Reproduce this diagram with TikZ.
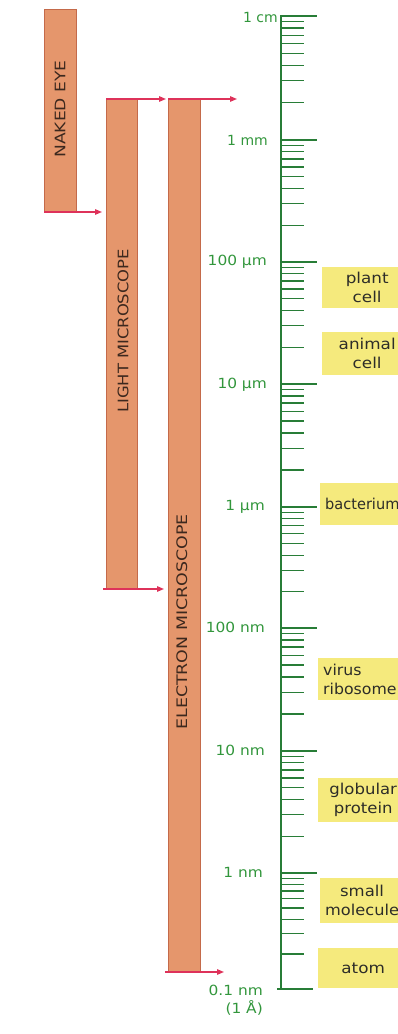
\documentclass[tikz,border=0pt]{standalone}
\usepackage{fontspec}
\setmainfont{DejaVu Sans}
\usetikzlibrary{arrows.meta}
\definecolor{barfill}{RGB}{229,150,108}
\definecolor{bardraw}{RGB}{196,106,74}
\definecolor{arrowred}{RGB}{222,50,90}
\definecolor{scalegreen}{RGB}{40,125,55}
\definecolor{labelgreen}{RGB}{50,150,60}
\definecolor{boxyellow}{RGB}{245,234,125}
\definecolor{boxtext}{RGB}{45,45,40}
\definecolor{bartext}{RGB}{60,40,30}
\begin{document}
\begin{tikzpicture}[x=1pt,y=-1pt,
  bar/.style={draw=bardraw, fill=barfill, line width=1pt, anchor=north west, inner sep=0, outer sep=0},
  rangearrow/.style={draw=arrowred, line width=1.3pt, -{Triangle[length=7pt,width=5.5pt]}},
  barlabel/.style={rotate=90, font=\fontsize{14.5}{16}\selectfont, text=bartext, inner sep=0},
  scalelabel/.style={anchor=base east, font=\fontsize{14}{16}\selectfont, text=labelgreen, inner sep=0},
  ybox/.style={fill=boxyellow, draw=none, anchor=north west, minimum width=90pt, inner xsep=5pt, inner ysep=0pt,
    font=\fontsize{15}{19}\selectfont, text=boxtext, align=center},
  majortick/.style={draw=scalegreen, line width=1.4pt},
  minortick/.style={draw=scalegreen, line width=1.3pt},
  scaleline/.style={draw=scalegreen, line width=1.8pt}
]
\useasboundingbox (0,0) rectangle (398,1034);
\clip (0,0) rectangle (398,1034);

% bars
\node[bar, minimum width=32pt, minimum height=203pt] (naked) at (44,9) {};
\node[bar, minimum width=31pt, minimum height=490pt] (light) at (106,99) {};
\node[bar, minimum width=32pt, minimum height=873pt] (electron) at (168,99) {};

\node[barlabel] (nakedlbl) at (60,109) {\scalebox{1.18}[1]{NAKED EYE}};
\node[barlabel] (lightlbl) at (123,331) {\scalebox{1.13}[1]{LIGHT MICROSCOPE}};
\node[barlabel] (electronlbl) at (182,622) {\scalebox{1.2}[1]{ELECTRON MICROSCOPE}};

% range arrows
\coordinate (nakedtip) at (102,212);
\coordinate (lighttoptip) at (166,99);
\coordinate (lightbottip) at (164,589);
\coordinate (electrontoptip) at (237,99);
\coordinate (electronbottip) at (224,972);
\draw[rangearrow] (naked.south west) -- (nakedtip);
\draw[rangearrow] (light.north west) -- (lighttoptip);
\draw[rangearrow] ([xshift=-3pt]light.south west) -- (lightbottip);
\draw[rangearrow] (electron.north west) -- (electrontoptip);
\draw[rangearrow] ([xshift=-3pt]electron.south west) -- (electronbottip);

% scale
\draw[scaleline] (281,15) -- (281,989.5);
\foreach \a/\b in {16/140,140/262,262/384,384/507,507/628,628/751,751/873,873/989}{
  \draw[majortick] (281,\a) -- (317,\a);
  \foreach \m in {2,...,9}{
    \pgfmathsetmacro\yy{\a+(\b-\a)*ln(10/\m)/ln(10)}
    \draw[minortick] (281,\yy) -- (304,\yy);
  }
}
\draw[majortick] (277,989) -- (313,989);

% scale labels
\node[scalelabel] (l1cm) at (278,22) {1 cm};
\node[scalelabel] (l1mm) at (268,145) {1 mm};
\node[scalelabel] (l100um) at (267,265) {\scalebox{1.1}[1]{100 µm}};
\node[scalelabel] (l10um) at (267,388) {\scalebox{1.1}[1]{10 µm}};
\node[scalelabel] (l1um) at (265,510) {\scalebox{1.1}[1]{1 µm}};
\node[scalelabel] (l100nm) at (265,632) {\scalebox{1.1}[1]{100 nm}};
\node[scalelabel] (l10nm) at (265,755) {\scalebox{1.1}[1]{10 nm}};
\node[scalelabel] (l1nm) at (263,877) {\scalebox{1.1}[1]{1 nm}};
\node[scalelabel] (l01nm) at (263,995) {\scalebox{1.1}[1]{0.1 nm}};
\node[scalelabel] (l1A) at (263,1013) {\scalebox{1.1}[1]{(1 Å)}};

% object boxes
\node[ybox, minimum height=41pt] (plant) at (322,267) {\scalebox{1.12}[1]{plant}\\\scalebox{1.12}[1]{cell}};
\node[ybox, minimum height=43pt] (animal) at (322,332) {\scalebox{1.12}[1]{animal}\\\scalebox{1.12}[1]{cell}};
\node[ybox, minimum height=42pt, align=left, text width=80pt, inner xsep=3pt] (bacterium) at (320,483) {\scalebox{0.97}[1]{bacterium}};
\node[ybox, minimum height=42pt, align=left, text width=80pt] (virus) at (318,658) {\scalebox{1.05}[1]{virus}\\\scalebox{1.05}[1]{ribosome}};
\node[ybox, minimum height=44pt] (globular) at (318,778) {\scalebox{1.1}[1]{globular}\\\scalebox{1.1}[1]{protein}};
\node[ybox, minimum height=45pt, minimum width=80pt] (small) at (320,878) {\scalebox{1.1}[1]{small}\\\scalebox{1.08}[1]{molecule}};
\node[ybox, minimum height=40pt] (atom) at (318,948) {\scalebox{1.12}[1]{atom}};
\end{tikzpicture}
\end{document}
